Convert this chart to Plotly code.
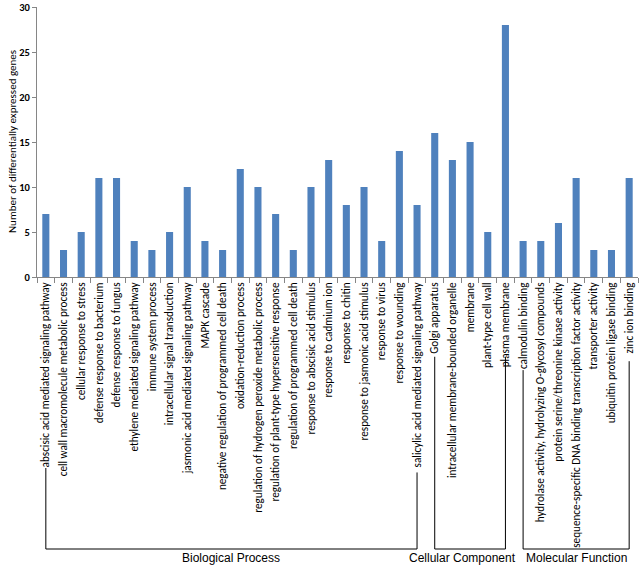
import plotly.graph_objects as go

categories = [
    "abscisic acid mediated signaling pathway",
    "cell wall macromolecule metabolic process",
    "cellular response to stress",
    "defense response to bacterium",
    "defense response to fungus",
    "ethylene mediated signaling pathway",
    "immune system process",
    "intracellular signal transduction",
    "jasmonic acid mediated signaling pathway",
    "MAPK cascade",
    "negative regulation of programmed cell death",
    "oxidation-reduction process",
    "regulation of hydrogen peroxide metabolic process",
    "regulation of plant-type hypersensitive response",
    "regulation of programmed cell death",
    "response to abscisic acid stimulus",
    "response to cadmium ion",
    "response to chitin",
    "response to jasmonic acid stimulus",
    "response to virus",
    "response to wounding",
    "salicylic acid mediated signaling pathway",
    "Golgi apparatus",
    "intracellular membrane-bounded organelle",
    "membrane",
    "plant-type cell wall",
    "plasma membrane",
    "calmodulin binding",
    "hydrolase activity, hydrolyzing O-glycosyl compounds",
    "protein serine/threonine kinase activity",
    "sequence-specific DNA binding transcription factor activity",
    "transporter activity",
    "ubiquitin protein ligase binding",
    "zinc ion binding",
]
values = [7, 3, 5, 11, 11, 4, 3, 5, 10, 4, 3, 12, 10, 7, 3, 10, 13, 8, 10, 4, 14, 8,
          16, 13, 15, 5, 28,
          4, 4, 6, 11, 3, 3, 11]
groups = ["Biological Process"] * 22 + ["Cellular Component"] * 5 + ["Molecular Function"] * 7
group_names = ["Biological Process", "Cellular Component", "Molecular Function"]
y_ticks = [0, 5, 10, 15, 20, 25, 30]

W, H = 640, 572
ML, MR, MT, MB = 37, 2, 7, 295
plot_h = H - MT - MB

def py(ypx):
    # pixel row -> paper coordinate
    return (H - MB - ypx) / plot_h

LABEL_FONT = "Carlito, Lato, sans-serif"
label_start_px = 288
char_w = 4.45
bracket_px = 549
group_text_px = 558
group_xshift = {"Biological Process": 0, "Cellular Component": -8, "Molecular Function": 0}

fig = go.Figure(go.Bar(
    x=categories, y=values, marker_color="#4F81BD",
    marker_line_width=0,
))

shapes = []
annotations = []
for g in group_names:
    idx = [i for i, gg in enumerate(groups) if gg == g]
    i0, i1 = idx[0], idx[-1]
    ybr = py(bracket_px)
    for i in (i0, i1):
        top = label_start_px + len(categories[i]) * char_w + 2
        shapes.append(dict(type="line", xref="x", yref="paper", x0=i, x1=i,
                           y0=py(top), y1=ybr, line=dict(color="#000", width=1)))
    shapes.append(dict(type="line", xref="x", yref="paper", x0=i0, x1=i1,
                       y0=ybr, y1=ybr, line=dict(color="#000", width=1)))
    annotations.append(dict(text=g, xref="x", yref="paper", x=(i0 + i1) / 2,
                            y=py(group_text_px), xanchor="center", yanchor="middle",
                            xshift=group_xshift[g], showarrow=False,
                            font=dict(family="Arial, Liberation Sans", size=12, color="#000")))

annotations.append(dict(text="Number of differentially expressed genes", xref="paper",
                        yref="paper", x=-(ML - 12) / (W - ML - MR), y=0.5, textangle=-90,
                        xanchor="center", yanchor="middle", showarrow=False,
                        font=dict(family=LABEL_FONT, size=11, color="#000")))

fig.update_layout(
    width=W, height=H,
    margin=dict(l=ML, r=MR, t=MT, b=MB),
    plot_bgcolor="white", paper_bgcolor="white",
    bargap=0.6, showlegend=False,
    shapes=shapes, annotations=annotations,
)
fig.update_xaxes(
    type="category", tickangle=-90, ticks="outside", ticklen=5, tickcolor="#868686",
    tickson="boundaries", showline=True, linecolor="#868686", linewidth=1,
    tickfont=dict(family=LABEL_FONT, size=11.2, color="#000"),
    showgrid=False, automargin=False,
)
fig.update_yaxes(
    range=[0, 30], tickvals=y_ticks, ticks="outside", ticklen=4, tickcolor="#868686",
    showline=True, linecolor="#868686", linewidth=1, showgrid=False, zeroline=False,
    tickfont=dict(family=LABEL_FONT, size=10.5, color="#000", weight="bold"),
    automargin=False,
)

fig.write_html("out.html", config={"displayModeBar": False},
               post_script="document.body.style.margin='0';")
